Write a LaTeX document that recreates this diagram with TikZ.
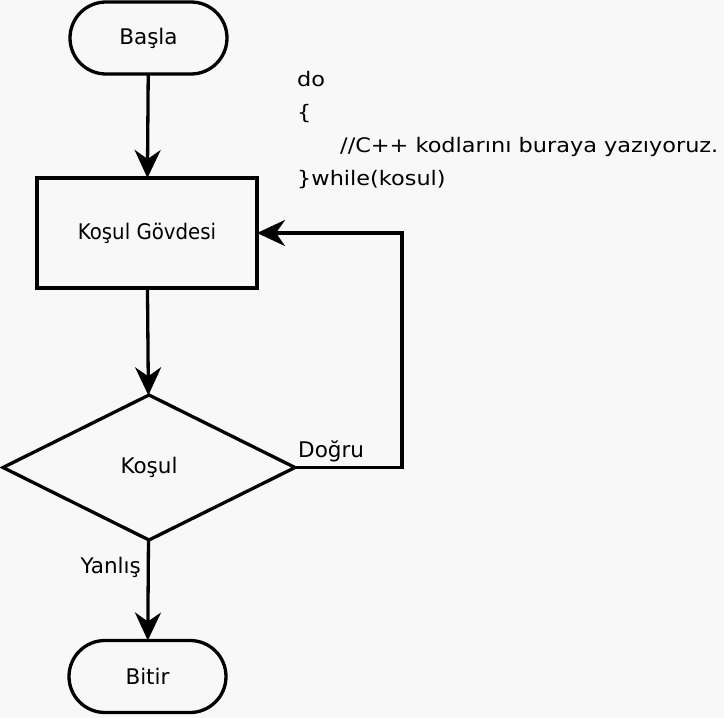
\documentclass[tikz,border=0pt]{standalone}
\usepackage{fontspec}
\setmainfont{DejaVu Sans}
\newfontfamily\codefont[FakeStretch=1.12]{DejaVu Sans}
\newfontfamily\narrowfont[FakeStretch=0.92]{DejaVu Sans}
\usetikzlibrary{shapes.geometric,arrows.meta}
\definecolor{bg}{HTML}{F8F8F8}
\begin{document}
\begin{tikzpicture}[x=1pt,y=-1pt,
  every node/.style={font=\fontsize{21.5}{26}\selectfont},
  flow/.style={line width=3.3pt,-{Stealth[length=28pt,width=26pt,inset=9pt]}},
  term/.style={draw,line width=3.3pt,rectangle,rounded corners=36pt,minimum width=157pt,minimum height=72pt,inner sep=0pt,outer sep=0pt,fill=bg},
  proc/.style={draw,line width=3.3pt,rectangle,minimum width=220pt,minimum height=110pt,inner sep=0pt,outer sep=0pt},
  dec/.style={draw,line width=3.3pt,diamond,minimum width=292pt,minimum height=145pt,inner sep=0pt,outer sep=0pt},
  code/.style={anchor=base west,inner sep=0pt,font=\codefont\fontsize{20}{24}\selectfont}]
\fill[bg] (0,0) rectangle (724,718);
\useasboundingbox (0,0) rectangle (724,718);
\node[term] (start) at (148.5,38) {Başla};
\node[proc,font=\narrowfont\fontsize{21.5}{26}\selectfont] (body) at (147,233) {Koşul Gövdesi};
\node[dec] (cond) at (149,467.5) {Koşul};
\node[term] (end) at (147.5,676.5) {Bitir};
\coordinate (corner1) at (402,467.5);
\coordinate (corner2) at (402,233);
\draw[flow] (start) -- (body);
\draw[flow] (body) -- (cond);
\draw[flow] (cond) -- (end);
\draw[flow] (cond.east) -- (corner1) -- (corner2) -- (body.east);
\node[anchor=base west,inner sep=0pt] (yes) at (298,457) {Doğru};
\node[anchor=base east,inner sep=0pt] (no) at (141,573) {Yanlış};
\node[code] (c1) at (297,86.5) {do};
\node[code] (c2) at (297,119) {\{};
\node[code] (c3) at (340,152) {//C++ kodlarını buraya yazıyoruz.};
\node[code] (c4) at (297,185) {\}while(kosul)};
\end{tikzpicture}
\end{document}
